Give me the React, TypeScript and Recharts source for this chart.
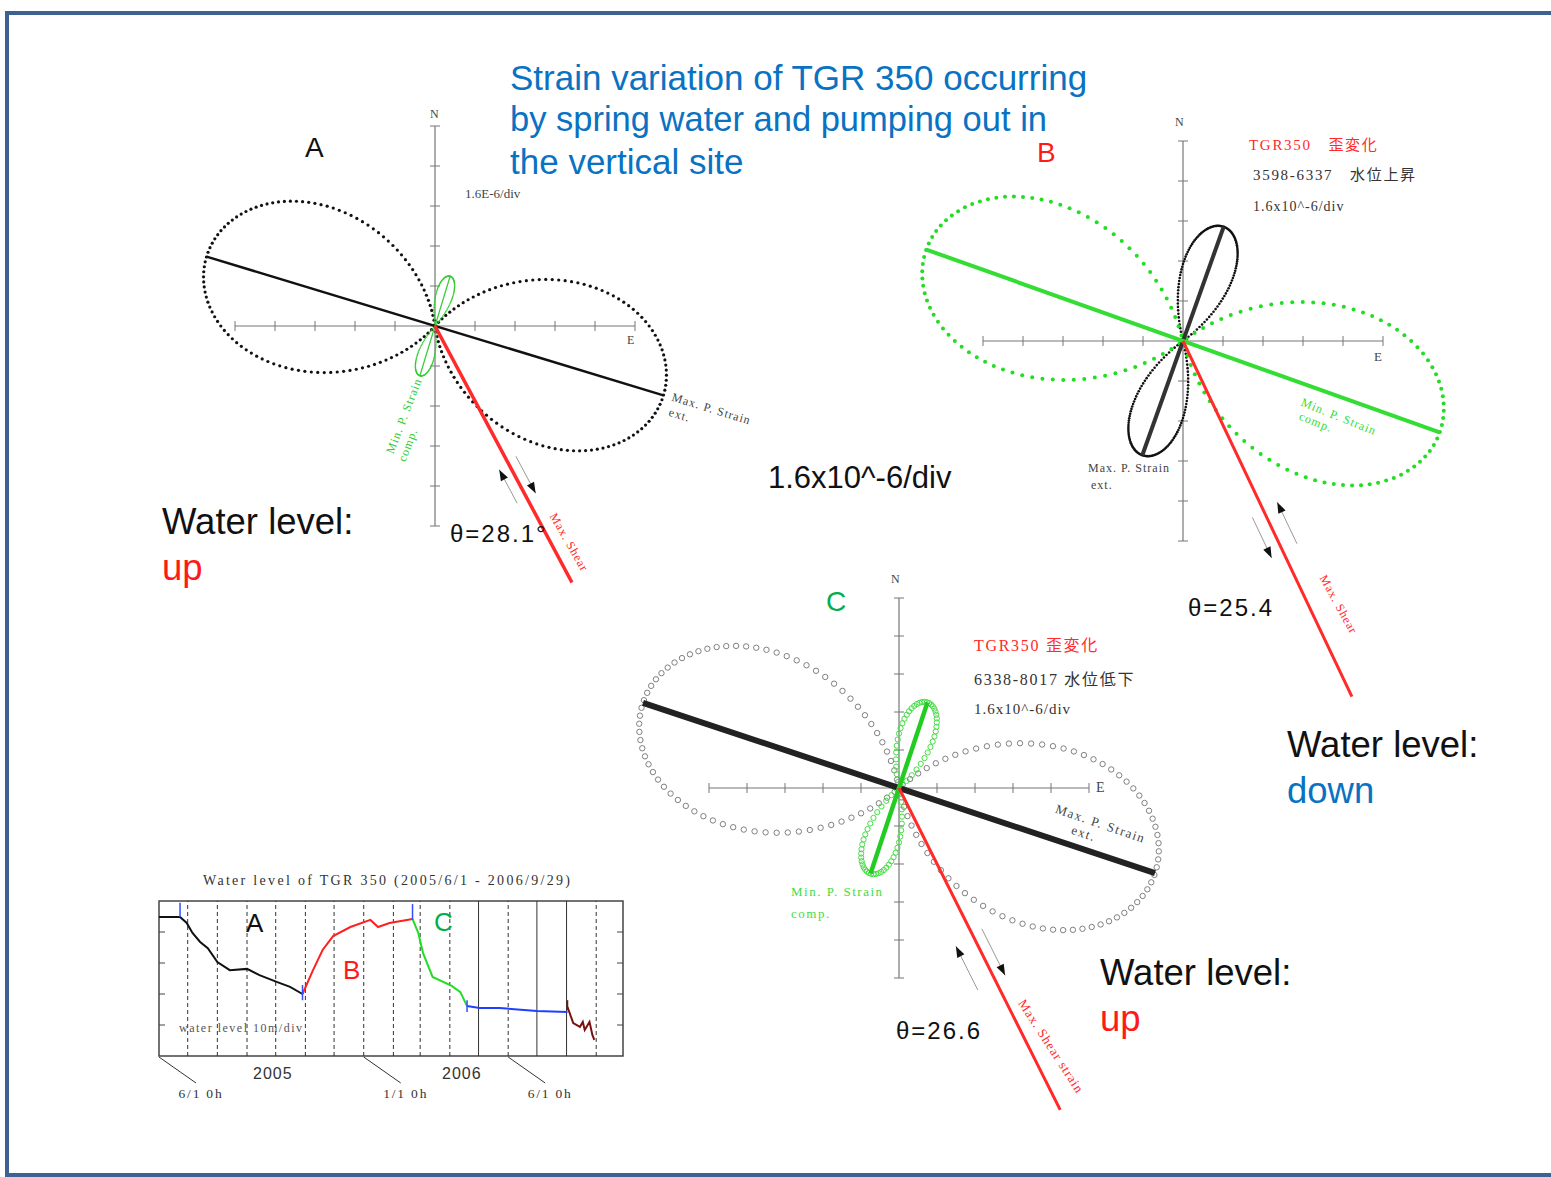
import React from 'react';
import {
  Line,
  LineChart,
  ReferenceArea,
  ReferenceLine,
  Scatter,
  ScatterChart,
  XAxis,
  YAxis,
} from 'recharts';

// strain rosettes A, B, C (strain in 1e-6, azimuth in degrees clockwise from N)
const DIV = 1.6;
const maxStrain = [9.55, 4.85, 11.36];
const minStrain = [-2.08, -10.9, -3.8];
const maxAzimuth = [106.9, 19.6, 108.4];
const shearAzimuth = [151.9, 154.6, 153.4];
const thetaLabels = ['θ=28.1°', 'θ=25.4', 'θ=26.6'];
const axisDivs = [-5, -4, -3, -2, -1, 1, 2, 3, 4, 5];

// water level of TGR 350, day 0 = 2005/6/1 0h, level in m
const daysA = [0, 22, 29, 35, 43, 51, 61, 74, 92, 105, 123, 137, 150];
const levelA = [44.8, 44.8, 42.9, 39.7, 36.8, 34.8, 30.3, 27.7, 28.1, 26.1, 23.9, 22.3, 20.0];
const daysB = [150, 161, 171, 182, 200, 221, 229, 241, 265];
const levelB = [20.0, 27.7, 34.2, 38.7, 41.6, 43.9, 41.6, 42.9, 44.2];
const daysC = [265, 271, 276, 286, 306, 315, 322];
const levelC = [44.2, 39.7, 33.2, 25.5, 22.6, 20.6, 16.1];
const daysD = [322, 335, 356, 395, 427];
const levelD = [16.1, 15.5, 15.5, 14.5, 14.2];
const daysE = [427, 433, 440, 443, 445, 450, 453, 455];
const levelE = [15.8, 10.6, 9.4, 11.0, 8.4, 11.0, 6.8, 5.2];
const markDays = [22, 150, 265, 322, 427];
const markLow = [44.8, 18.0, 43.9, 14.2, 14.8];
const markHigh = [49.4, 22.9, 49.0, 18.0, 18.0];
const monthDays = [30, 61, 92, 122, 153, 183, 214, 245, 273, 304, 334, 365, 395, 426, 457];
const solidMonths = [334, 395, 426];
const levelTicks = [10, 20, 30, 40];
const dateTicks = [0, 214, 365];
const dateLabels = ['6/1  0h', '1/1  0h', '6/1  0h'];
const DAY_MAX = 485;

const SANS = '"Liberation Sans", Arial, sans-serif';
const SERIF = '"Liberation Serif", "Noto Sans CJK JP", serif';

type Pt = { x: number; y: number; rot?: number };

const polar = (r: number, az: number): Pt => {
  const a = (az * Math.PI) / 180;
  return { x: r * Math.sin(a), y: r * Math.cos(a) };
};

// normal strain in every direction from the two principal strains
function rosette(e1: number, e2: number, phi: number, step: number) {
  const ext: Pt[] = [];
  const comp: Pt[] = [];
  for (let az = 0; az < 360; az += step) {
    const d = ((az - phi) * Math.PI) / 180;
    const r = e1 * Math.cos(d) ** 2 + e2 * Math.sin(d) ** 2;
    (r >= 0 ? ext : comp).push(polar(Math.abs(r), az));
  }
  return { ext, comp };
}

// layout and styling of each rosette panel
const frames = [
  {
    cx: 435, cy: 326, ppd: 40, half: 8,
    extStep: 1.2, compStep: 0.5,
    extDot: { r: 1.6, fill: '#111' }, compDot: { r: 0.8, fill: '#33cc33' },
    extLine: { c: '#111', w: 2.5 }, compLine: { c: '#33cc33', w: 1.2 }, shearW: 3.5,
    arrows: [{ from: 195, to: 157, perp: -11 }, { from: 153, to: 195, perp: 10 }],
  },
  {
    cx: 1183, cy: 341, ppd: 40, half: 9.5,
    extStep: 0.6, compStep: 1.5,
    extDot: { r: 1.3, fill: '#111' }, compDot: { r: 2, fill: '#22dd22' },
    extLine: { c: '#333', w: 4 }, compLine: { c: '#33dd33', w: 4 }, shearW: 3,
    arrows: [{ from: 189, to: 234, perp: -13 }, { from: 232, to: 186, perp: 16 }],
  },
  {
    cx: 899, cy: 788, ppd: 38, half: 10,
    extStep: 1.7, compStep: 1.5,
    extDot: { r: 2.7, stroke: '#808080' }, compDot: { r: 2.6, stroke: '#44dd44' },
    extLine: { c: '#222', w: 6 }, compLine: { c: '#22cc22', w: 4.5 }, shearW: 3,
    arrows: [{ from: 216, to: 167, perp: -20 }, { from: 163, to: 215, perp: 11 }],
  },
];

const dotShape = (d: { r: number; fill?: string; stroke?: string }) => (p: any) => (
  <circle
    cx={p.cx}
    cy={p.cy}
    r={d.r}
    fill={d.stroke ? 'none' : d.fill}
    stroke={d.stroke || 'none'}
    strokeWidth={d.stroke ? 1 : 0}
  />
);
const noDot = () => <g />;
const arrowHead = (p: any) => (
  <polygon
    transform={`translate(${p.cx},${p.cy}) rotate(${p.payload.rot})`}
    points="0,0 -11,-4 -11,4"
    fill="#111"
  />
);

function Rosette({ i }: { i: number }) {
  const f = frames[i];
  const R = f.half * DIV;
  const size = f.half * 2 * f.ppd;
  const pv = (px: number) => (px / f.ppd) * DIV;
  const extPts = rosette(maxStrain[i], minStrain[i], maxAzimuth[i], f.extStep).ext;
  const compPts = rosette(maxStrain[i], minStrain[i], maxAzimuth[i], f.compStep).comp;
  const e1 = maxStrain[i];
  const e2 = Math.abs(minStrain[i]);
  const extAxis = [polar(e1, maxAzimuth[i] + 180), polar(e1, maxAzimuth[i])];
  const compAxis = [polar(e2, maxAzimuth[i] - 90), polar(e2, maxAzimuth[i] + 90)];
  const shear = [polar(0, 0), polar(e1 + e2, shearAzimuth[i])];
  const sAz = shearAzimuth[i];
  const at = (along: number, perp: number): Pt => {
    const a = polar(pv(along), sAz);
    const n = polar(pv(perp), sAz - 90);
    return { x: a.x + n.x, y: a.y + n.y };
  };
  const shafts = f.arrows.map((a) => [at(a.from, a.perp), at(a.to, a.perp)]);
  const heads = f.arrows.map((a) => ({
    ...at(a.to, a.perp),
    rot: (a.to > a.from ? sAz : sAz + 180) - 90,
  }));
  const tick = pv(5);
  const lim = 5 * DIV;
  return (
    <div style={{ position: 'absolute', left: f.cx - size / 2, top: f.cy - size / 2 }}>
      <ScatterChart width={size} height={size} margin={{ top: 0, right: 0, bottom: 0, left: 0 }}>
        <XAxis type="number" dataKey="x" domain={[-R, R]} hide allowDataOverflow />
        <YAxis type="number" dataKey="y" domain={[-R, R]} hide allowDataOverflow width={0} />
        <ReferenceLine segment={[{ x: -lim, y: 0 }, { x: lim, y: 0 }]} stroke="#777" strokeWidth={1.2} />
        <ReferenceLine segment={[{ x: 0, y: -lim }, { x: 0, y: lim }]} stroke="#777" strokeWidth={1.2} />
        {axisDivs.map((d) => (
          <ReferenceLine
            key={`h${d}`}
            segment={[{ x: d * DIV, y: -tick }, { x: d * DIV, y: tick }]}
            stroke="#777"
          />
        ))}
        {axisDivs.map((d) => (
          <ReferenceLine
            key={`v${d}`}
            segment={[{ x: -tick, y: d * DIV }, { x: tick, y: d * DIV }]}
            stroke="#777"
          />
        ))}
        {shafts.map((s, k) => (
          <ReferenceLine key={`s${k}`} segment={s} stroke="#999" strokeWidth={1} />
        ))}
        <Scatter data={extPts} shape={dotShape(f.extDot)} isAnimationActive={false} />
        <Scatter data={compPts} shape={dotShape(f.compDot)} isAnimationActive={false} />
        <Scatter
          data={extAxis}
          shape={noDot}
          line={{ stroke: f.extLine.c, strokeWidth: f.extLine.w }}
          isAnimationActive={false}
        />
        <Scatter
          data={compAxis}
          shape={noDot}
          line={{ stroke: f.compLine.c, strokeWidth: f.compLine.w }}
          isAnimationActive={false}
        />
        <Scatter
          data={shear}
          shape={noDot}
          line={{ stroke: '#ff2a2a', strokeWidth: f.shearW }}
          isAnimationActive={false}
        />
        <Scatter data={heads} shape={arrowHead} isAnimationActive={false} />
      </ScatterChart>
    </div>
  );
}

const rows = (days: number[], levels: number[]) => days.map((d, k) => ({ day: d, level: levels[k] }));
const marks = markDays.map((d, k) => ({ d, lo: markLow[k], hi: markHigh[k], c: k === 4 ? '#7a1010' : '#3050ff' }));

function DateTick(p: any) {
  const { x, y, index } = p;
  return (
    <g>
      <line x1={x} y1={y + 1} x2={x + 37} y2={y + 27} stroke="#333" strokeWidth={1} />
      <text
        x={x + 42}
        y={y + 42}
        textAnchor="middle"
        fontFamily={SERIF}
        fontSize={13.5}
        letterSpacing={1.8}
        fill="#333"
      >
        {dateLabels[index]}
      </text>
    </g>
  );
}

function WaterLevel() {
  const tickDays = (6 / 464) * DAY_MAX;
  return (
    <div style={{ position: 'absolute', left: 139, top: 861 }}>
      <LineChart width={520} height={260} margin={{ top: 40, right: 36, bottom: 0, left: 20 }}>
        <XAxis
          type="number"
          dataKey="day"
          domain={[0, DAY_MAX]}
          ticks={dateTicks}
          interval={0}
          tick={(p: any) => <DateTick {...p} />}
          tickSize={0}
          tickMargin={0}
          axisLine={false}
          tickLine={false}
          height={65}
          allowDataOverflow
        />
        <YAxis type="number" domain={[0, 50]} hide width={0} />
        {monthDays.map((d) => (
          <ReferenceLine
            key={d}
            x={d}
            stroke="#333"
            strokeWidth={1}
            strokeDasharray={solidMonths.includes(d) ? undefined : '4 3'}
          />
        ))}
        {levelTicks.map((v) => (
          <ReferenceLine key={`l${v}`} segment={[{ x: 0, y: v }, { x: tickDays, y: v }]} stroke="#444" />
        ))}
        {levelTicks.map((v) => (
          <ReferenceLine
            key={`r${v}`}
            segment={[{ x: DAY_MAX - tickDays, y: v }, { x: DAY_MAX, y: v }]}
            stroke="#444"
          />
        ))}
        <ReferenceArea x1={0} x2={DAY_MAX} y1={0} y2={50} fill="none" stroke="#444" strokeWidth={1.5} />
        <Line data={rows(daysA, levelA)} dataKey="level" stroke="#111" strokeWidth={2} dot={false} isAnimationActive={false} />
        <Line data={rows(daysB, levelB)} dataKey="level" stroke="#ff2020" strokeWidth={2} dot={false} isAnimationActive={false} />
        <Line data={rows(daysC, levelC)} dataKey="level" stroke="#22dd22" strokeWidth={2} dot={false} isAnimationActive={false} />
        <Line data={rows(daysD, levelD)} dataKey="level" stroke="#2040ff" strokeWidth={2} dot={false} isAnimationActive={false} />
        <Line data={rows(daysE, levelE)} dataKey="level" stroke="#7a1010" strokeWidth={2} dot={false} isAnimationActive={false} />
        {marks.map((m) => (
          <ReferenceLine key={`m${m.d}`} segment={[{ x: m.d, y: m.lo }, { x: m.d, y: m.hi }]} stroke={m.c} strokeWidth={1.5} />
        ))}
      </LineChart>
    </div>
  );
}

type Lbl = {
  t: string; x: number; y: number; s: number; c?: string; f?: string; r?: number; ls?: number;
};

const labels: Lbl[] = [
  // title and large notes
  { t: 'Strain variation of TGR 350 occurring', x: 510, y: 60, s: 35, c: '#0a72c2' },
  { t: 'by spring water and pumping out in', x: 510, y: 102, s: 34.5, c: '#0a72c2' },
  { t: 'the vertical site', x: 510, y: 144, s: 35, c: '#0a72c2' },
  { t: 'A', x: 305, y: 134, s: 28, c: '#111' },
  { t: 'B', x: 1037, y: 139, s: 28, c: '#ff1a1a' },
  { t: 'C', x: 826, y: 588, s: 28, c: '#00b050' },
  { t: '1.6x10^-6/div', x: 768, y: 462, s: 31, c: '#111' },
  { t: 'Water level:', x: 162, y: 504, s: 36.5, c: '#111' },
  { t: 'up', x: 162, y: 550, s: 36.5, c: '#ff1a1a' },
  { t: 'Water level:', x: 1287, y: 727, s: 36.5, c: '#111' },
  { t: 'down', x: 1287, y: 773, s: 36.5, c: '#0a72c2' },
  { t: 'Water level:', x: 1100, y: 955, s: 36.5, c: '#111' },
  { t: 'up', x: 1100, y: 1001, s: 36.5, c: '#ff1a1a' },
  { t: thetaLabels[0], x: 450, y: 522, s: 24, c: '#111', ls: 2 },
  { t: thetaLabels[1], x: 1188, y: 596, s: 24, c: '#111', ls: 2 },
  { t: thetaLabels[2], x: 896, y: 1019, s: 24, c: '#111', ls: 2 },
  // rosette A
  { t: 'N', x: 430, y: 108, s: 12, c: '#444', f: SERIF },
  { t: 'E', x: 627, y: 334, s: 12, c: '#444', f: SERIF },
  { t: '1.6E-6/div', x: 465, y: 187, s: 13, c: '#444', f: SERIF },
  { t: 'Max. P. Strain', x: 674, y: 391, s: 12, c: '#444', f: SERIF, r: 17, ls: 1 },
  { t: 'ext.', x: 671, y: 406, s: 12, c: '#444', f: SERIF, r: 17, ls: 1 },
  { t: 'Min. P. Strain', x: 384, y: 451, s: 12, c: '#33cc33', f: SERIF, r: -69, ls: 1 },
  { t: 'comp.', x: 396, y: 459, s: 12, c: '#33cc33', f: SERIF, r: -69, ls: 1 },
  { t: 'Max. Shear', x: 558, y: 511, s: 12, c: '#ff2a2a', f: SERIF, r: 60, ls: 1 },
  // rosette B
  { t: 'N', x: 1175, y: 116, s: 12, c: '#444', f: SERIF },
  { t: 'E', x: 1374, y: 350, s: 13, c: '#444', f: SERIF },
  { t: 'TGR350　歪変化', x: 1249, y: 138, s: 15, c: '#ff2a2a', f: SERIF, ls: 1.7 },
  { t: '3598-6337　水位上昇', x: 1253, y: 168, s: 15, c: '#333', f: SERIF, ls: 1.7 },
  { t: '1.6x10^-6/div', x: 1253, y: 200, s: 14, c: '#333', f: SERIF, ls: 1 },
  { t: 'Max. P. Strain', x: 1088, y: 462, s: 12, c: '#444', f: SERIF, ls: 1 },
  { t: 'ext.', x: 1091, y: 479, s: 12, c: '#444', f: SERIF, ls: 1 },
  { t: 'Min. P. Strain', x: 1304, y: 396, s: 12, c: '#33dd33', f: SERIF, r: 22, ls: 1 },
  { t: 'comp.', x: 1302, y: 410, s: 12, c: '#33dd33', f: SERIF, r: 22, ls: 1 },
  { t: 'Max. Shear', x: 1328, y: 573, s: 12, c: '#ff2a2a', f: SERIF, r: 61, ls: 1 },
  // rosette C
  { t: 'N', x: 891, y: 573, s: 12, c: '#444', f: SERIF },
  { t: 'E', x: 1096, y: 781, s: 14, c: '#444', f: SERIF },
  { t: 'TGR350 歪変化', x: 974, y: 638, s: 16, c: '#ff2a2a', f: SERIF, ls: 1.7 },
  { t: '6338-8017 水位低下', x: 974, y: 672, s: 16, c: '#333', f: SERIF, ls: 1.7 },
  { t: '1.6x10^-6/div', x: 974, y: 702, s: 15, c: '#333', f: SERIF, ls: 1 },
  { t: 'Max. P. Strain', x: 1058, y: 802, s: 13, c: '#444', f: SERIF, r: 19, ls: 1.5 },
  { t: 'ext.', x: 1074, y: 823, s: 13, c: '#444', f: SERIF, r: 19, ls: 1.5 },
  { t: 'Min. P. Strain', x: 791, y: 885, s: 13, c: '#44dd44', f: SERIF, ls: 1.5 },
  { t: 'comp.', x: 791, y: 907, s: 13, c: '#44dd44', f: SERIF, ls: 1.5 },
  { t: 'Max. Shear strain', x: 1027, y: 997, s: 13, c: '#ff2a2a', f: SERIF, r: 57, ls: 1 },
  // water level panel
  { t: 'Water level of TGR 350 (2005/6/1 - 2006/9/29)', x: 203, y: 874, s: 14, c: '#333', f: SERIF, ls: 2.3 },
  { t: 'A', x: 246, y: 910, s: 26, c: '#111' },
  { t: 'B', x: 343, y: 957, s: 26, c: '#ff1a1a' },
  { t: 'C', x: 434, y: 909, s: 26, c: '#00b050' },
  { t: 'water level 10m/div', x: 179, y: 1022, s: 12, c: '#555', f: SERIF, ls: 1.5 },
  { t: '2005', x: 253, y: 1066, s: 16, c: '#333', ls: 1 },
  { t: '2006', x: 442, y: 1066, s: 16, c: '#333', ls: 1 },
];

export default function App() {
  return (
    <div
      style={{
        position: 'absolute',
        left: 0,
        top: 0,
        width: 1551,
        height: 1177,
        overflow: 'hidden',
        background: '#fff',
      }}
    >
      <div
        style={{
          position: 'absolute',
          left: 5,
          top: 11,
          width: 1600,
          height: 1158,
          border: '4px solid #3d6190',
          borderRight: 'none',
        }}
      />
      <Rosette i={0} />
      <Rosette i={1} />
      <Rosette i={2} />
      <WaterLevel />
      {labels.map((l, k) => (
        <div
          key={k}
          style={{
            position: 'absolute',
            left: l.x,
            top: l.y,
            fontSize: l.s,
            lineHeight: 1,
            color: l.c,
            fontFamily: l.f || SANS,
            whiteSpace: 'nowrap',
            letterSpacing: l.ls || 0,
            transform: l.r ? `rotate(${l.r}deg)` : undefined,
            transformOrigin: 'left top',
          }}
        >
          {l.t}
        </div>
      ))}
    </div>
  );
}
